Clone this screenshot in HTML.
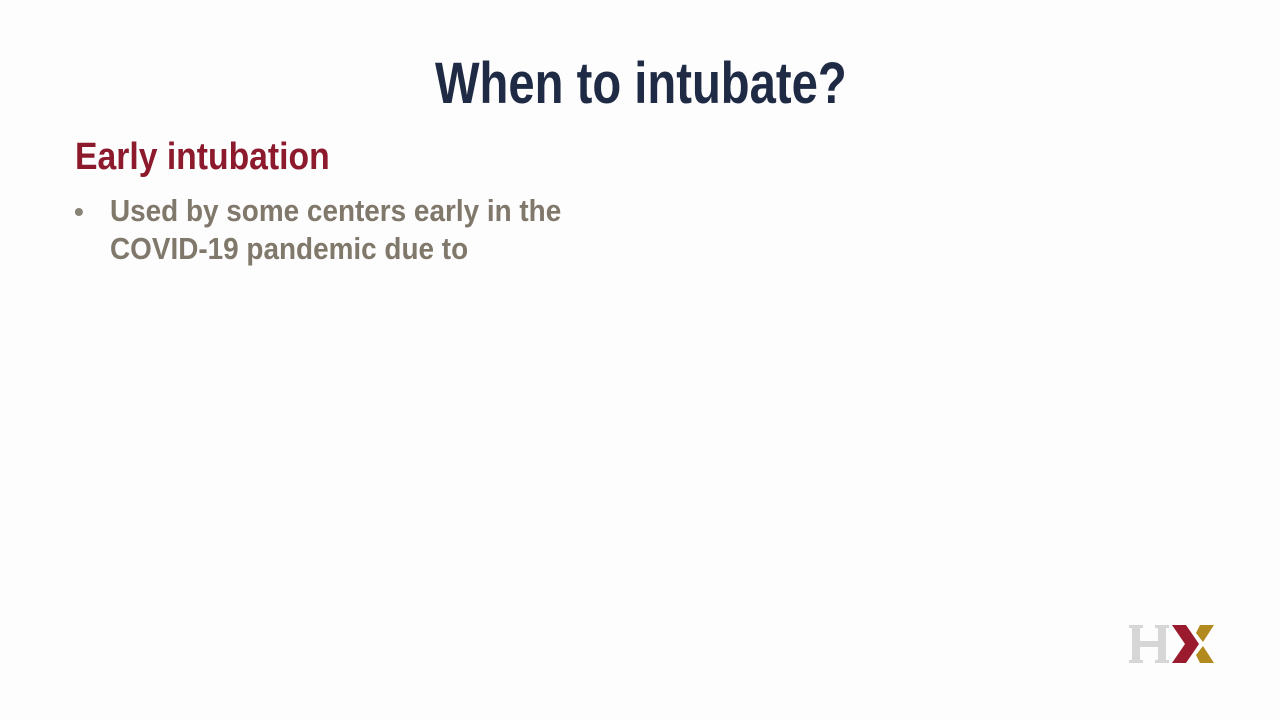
<!DOCTYPE html>
<html><head><meta charset="utf-8"><style>
html,body{margin:0;padding:0;width:1280px;height:720px;background:#fdfdfd;overflow:hidden;font-family:"Liberation Sans",sans-serif;font-weight:bold;}
.t{position:absolute;white-space:nowrap;transform-origin:0 0;}
</style></head><body>
<div class="t" style="left:435px;top:50px;font-size:58px;color:#1f2a44;transform:scaleX(0.814);">When to intubate?</div>
<div class="t" style="left:75px;top:136px;font-size:38px;color:#8c1a2c;transform:scaleX(0.887);">Early intubation</div>
<div class="t" style="left:74px;top:196px;font-size:28px;color:#8a8478;">•</div>
<div class="t" style="left:110px;top:193px;font-size:31px;color:#80786b;transform:scaleX(0.90);">Used by some centers early in the</div>
<div class="t" style="left:110px;top:231px;font-size:31px;color:#80786b;transform:scaleX(0.90);">COVID-19 pandemic due to</div>
<svg style="position:absolute;left:1128px;top:620px" width="90" height="46" viewBox="0 0 90 46">
<g fill="#d6d6d6">
<rect x="4" y="6" width="8" height="36"/><rect x="30" y="6" width="8" height="36"/><rect x="10" y="21" width="22" height="6"/>
<rect x="1" y="5" width="14" height="3"/><rect x="27" y="5" width="14" height="3"/><rect x="1" y="40" width="14" height="3"/><rect x="27" y="40" width="14" height="3"/>
</g>
<polygon points="44,5 58,5 71,24 58,43 44,43 57,24" fill="#9b1b2e"/>
<polygon points="72,5 86,5 75,22 68,13" fill="#b38a1e"/>
<polygon points="68,35 75,26 86,43 72,43" fill="#b38a1e"/>
</svg>
</body></html>
